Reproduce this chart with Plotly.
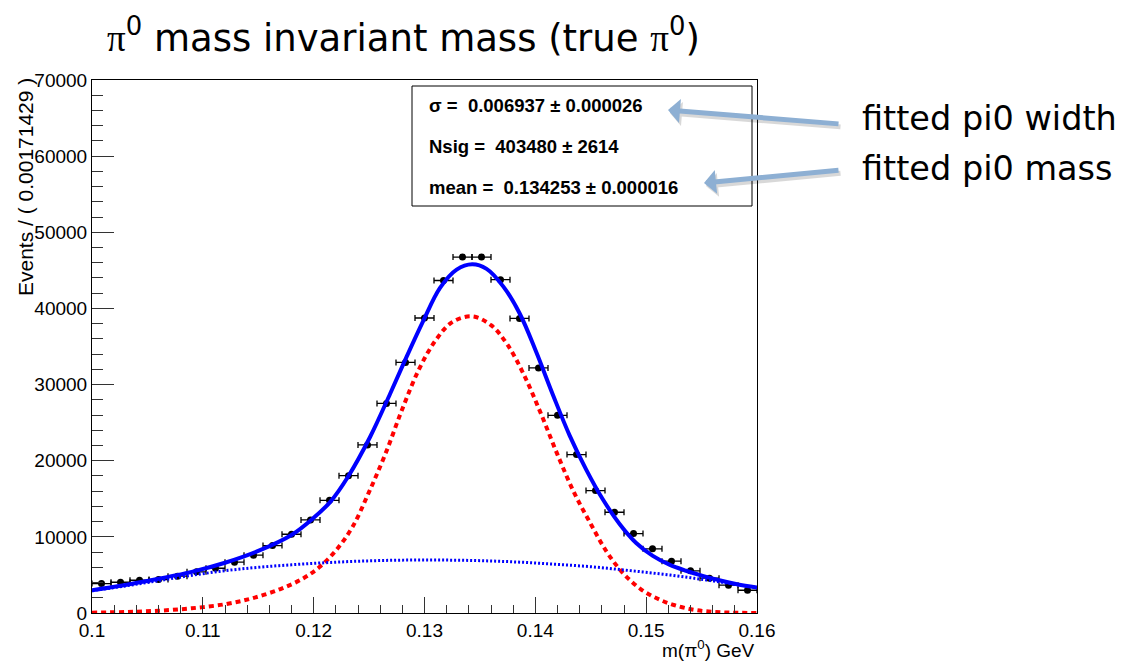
import plotly.graph_objects as go

# ---------------- data ----------------
bin_centers = [0.100857, 0.102571, 0.104286, 0.106000, 0.107714, 0.109429, 0.111143,
               0.112857, 0.114571, 0.116286, 0.118000, 0.119714, 0.121429, 0.123143,
               0.124857, 0.126571, 0.128286, 0.130000, 0.131714, 0.133429, 0.135143,
               0.136857, 0.138571, 0.140286, 0.142000, 0.143714, 0.145429, 0.147143,
               0.148857, 0.150571, 0.152286, 0.154000, 0.155714, 0.157429, 0.159143]
counts = [3870, 4040, 4300, 4400, 4830, 5410, 5880, 6670, 7590, 8860, 10340, 12230,
          14800, 18040, 22070, 27530, 32910, 38740, 43670, 46750, 46750, 43770, 38690,
          32180, 25960, 20800, 16080, 13230, 10430, 8430, 6800, 5540, 4570, 3650, 2990]
bin_half_width = 0.000857

sig_x = [0.1000, 0.1030, 0.1060, 0.1090, 0.1120, 0.1145, 0.1170, 0.1190, 0.1205, 0.1220,
         0.1235, 0.1250, 0.1265, 0.1280, 0.1295, 0.1310, 0.1325, 0.1343, 0.1360, 0.1375,
         0.1390, 0.1405, 0.1420, 0.1435, 0.1450, 0.1465, 0.1480, 0.1495, 0.1510, 0.1525,
         0.1545, 0.1570, 0.1600]
sig_y = [40, 130, 300, 620, 1150, 1950, 3150, 4500, 6000, 8200,
         11300, 15900, 21000, 26800, 32000, 35800, 38200, 38950, 37800, 35200,
         31200, 26200, 20800, 15800, 11700, 7900, 5100, 3150, 1900, 1050,
         380, 80, 10]

bkg_x = [0.1000, 0.1030, 0.1060, 0.1090, 0.1120, 0.1150, 0.1180, 0.1210, 0.1240, 0.1270,
         0.1300, 0.1330, 0.1360, 0.1390, 0.1420, 0.1450, 0.1480, 0.1510, 0.1540, 0.1570,
         0.1600]
bkg_y = [2930, 3550, 4240, 4950, 5550, 6000, 6330, 6600, 6800, 6920,
         6960, 6930, 6830, 6650, 6380, 6080, 5650, 5180, 4630, 4000,
         3320]

tot_x = [0.1000, 0.1030, 0.1060, 0.1090, 0.1120, 0.1150, 0.1180, 0.1200, 0.1215, 0.1231,
         0.1251, 0.1269, 0.1284, 0.1299, 0.1314, 0.1329, 0.1343, 0.1356, 0.1371, 0.1386,
         0.1401, 0.1416, 0.1431, 0.1446, 0.1461, 0.1476, 0.1491, 0.1506, 0.1521, 0.1536,
         0.1551, 0.1566, 0.1582, 0.1600]
tot_y = [3000, 3680, 4500, 5400, 6600, 8150, 10250, 12500, 14600, 17900,
         23150, 28800, 33700, 38400, 42700, 45100, 45800, 45200, 42900, 39300,
         34200, 28600, 23300, 18800, 14900, 11700, 9200, 7500, 6350, 5550,
         4880, 4300, 3780, 3350]

x_tickvals = [0.10, 0.11, 0.12, 0.13, 0.14, 0.15, 0.16]
x_ticktext = ["0.1", "0.11", "0.12", "0.13", "0.14", "0.15", "0.16"]
y_tickvals = [0, 10000, 20000, 30000, 40000, 50000, 60000, 70000]
y_ticktext = ["0", "10000", "20000", "30000", "40000", "50000", "60000", "70000"]

fit_lines = ["σ =  0.006937 ± 0.000026",
             "Nsig =  403480 ± 2614",
             "mean =  0.134253 ± 0.000016"]

# ---------------- layout helpers (pixel -> paper) ----------------
W, H = 1134, 661
L, R, T, B = 92, 757, 80, 613


def px(x):
    return (x - L) / (R - L)


def py(y):
    return (B - y) / (B - T)


fig = go.Figure()

fig.add_trace(go.Scatter(
    x=bin_centers, y=counts, mode="markers",
    marker=dict(color="black", size=7),
    error_x=dict(type="constant", value=bin_half_width, thickness=1.3, width=3, color="black"),
    hoverinfo="x+y"))

fig.add_trace(go.Scatter(
    x=tot_x, y=tot_y, mode="lines",
    line=dict(color="#0000ff", width=4, shape="spline", smoothing=1.0)))

fig.add_trace(go.Scatter(
    x=sig_x, y=sig_y, mode="lines",
    line=dict(color="#ff0000", width=4, dash="5px,4px", shape="spline", smoothing=1.0)))

fig.add_trace(go.Scatter(
    x=bkg_x, y=bkg_y, mode="lines",
    line=dict(color="#0000ff", width=3, dash="2px,2px", shape="spline", smoothing=1.0)))

tickfont = dict(family="Liberation Sans, Arial, sans-serif", size=19, color="black")

fig.update_xaxes(
    range=[0.1, 0.16], showgrid=False, zeroline=False,
    showline=True, linecolor="black", linewidth=1, mirror=True,
    ticks="inside", ticklen=16, tickwidth=1, tickcolor="#333",
    tickvals=x_tickvals, ticktext=x_ticktext, tickfont=tickfont,
    minor=dict(dtick=0.002, tick0=0.1, ticks="inside", ticklen=8, tickwidth=1, tickcolor="#333"))

fig.update_yaxes(
    range=[0, 70000], showgrid=False, zeroline=False,
    showline=True, linecolor="black", linewidth=1, mirror=True,
    ticks="inside", ticklen=22, tickwidth=1, tickcolor="#333",
    tickvals=y_tickvals, ticktext=y_ticktext, tickfont=tickfont,
    minor=dict(dtick=2000, tick0=0, ticks="inside", ticklen=11, tickwidth=1, tickcolor="#333"))

annotations = []

# title
annotations.append(dict(
    text='<span style="font-family:Liberation Serif">π</span><sup>0</sup> mass invariant mass (true '
         '<span style="font-family:Liberation Serif">π</span><sup>0</sup>)',
    xref="paper", yref="paper", x=px(105), y=py(36), xanchor="left", yanchor="middle",
    showarrow=False, font=dict(family="DejaVu Sans", size=37, color="black")))

# y axis title
annotations.append(dict(
    text="Events / ( 0.00171429 )", textangle=-90,
    xref="paper", yref="paper", x=px(25), y=py(76), xanchor="center", yanchor="top",
    showarrow=False, font=dict(family="Liberation Sans, Arial", size=21, color="black")))

# x axis title
annotations.append(dict(
    text="m(π<sup>0</sup>) GeV",
    xref="paper", yref="paper", x=px(757), y=py(649), xanchor="right", yanchor="middle",
    showarrow=False, font=dict(family="Liberation Sans, Arial", size=19, color="black")))

# fit parameter box text
for i, t in enumerate(fit_lines):
    annotations.append(dict(
        text="<b>" + t + "</b>",
        xref="paper", yref="paper", x=px(427), y=py(105 + 41 * i), xanchor="left", yanchor="middle",
        showarrow=False, font=dict(family="Liberation Sans, Arial", size=18.5, color="black")))

# arrows (shadow then arrow)
arrows = [((668, 110), (840, 124)), ((704, 183), (840, 170))]
for (hx, hy), (tx, ty) in arrows:
    annotations.append(dict(
        text="", xref="paper", yref="paper", x=px(hx + 2), y=py(hy + 3),
        ax=tx - hx, ay=ty - hy, showarrow=True, arrowhead=1, arrowsize=0.8,
        arrowwidth=5, arrowcolor="rgba(0,0,0,0.15)", standoff=0))
    annotations.append(dict(
        text="", xref="paper", yref="paper", x=px(hx), y=py(hy),
        ax=tx - hx, ay=ty - hy, showarrow=True, arrowhead=1, arrowsize=0.8,
        arrowwidth=5, arrowcolor="#8DAFD3", standoff=0))

annotations.append(dict(
    text="fitted pi0 width", xref="paper", yref="paper", x=px(860), y=py(118),
    xanchor="left", yanchor="middle", showarrow=False,
    font=dict(family="DejaVu Sans", size=33.5, color="black")))
annotations.append(dict(
    text="fitted pi0 mass", xref="paper", yref="paper", x=px(860), y=py(168),
    xanchor="left", yanchor="middle", showarrow=False,
    font=dict(family="DejaVu Sans", size=33.5, color="black")))

shapes = [dict(type="rect", xref="paper", yref="paper",
               x0=px(412), x1=px(752), y0=py(86), y1=py(206),
               line=dict(color="black", width=1), fillcolor="white", layer="above")]

fig.update_layout(
    width=W, height=H, autosize=False,
    margin=dict(l=L, r=W - R, t=T, b=H - B, pad=0),
    paper_bgcolor="white", plot_bgcolor="white",
    showlegend=False, annotations=annotations, shapes=shapes,
)

fig.write_html("out.html")
